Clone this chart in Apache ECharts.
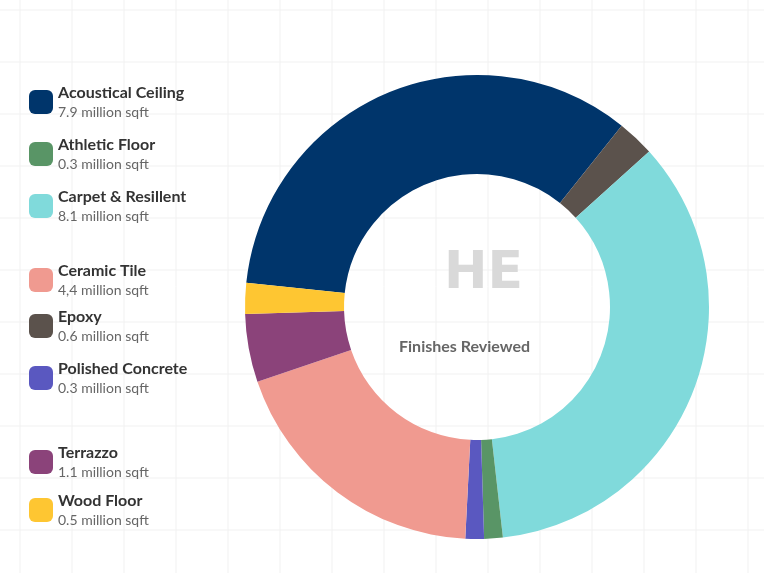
<!DOCTYPE html>
<html><head><meta charset="utf-8">
<script src="https://cdn.jsdelivr.net/npm/echarts@6/dist/echarts.min.js"></script>
<style>html,body{margin:0;background:#fff}#main{width:764px;height:573px}</style>
</head><body><div id="main"></div>
<script>
// data, clockwise order around the ring
const names = ["Acoustical Ceiling", "Epoxy", "Carpet & Resillent", "Athletic Floor", "Polished Concrete", "Ceramic Tile", "Terrazzo", "Wood Floor"];
const values = [7.9, 0.6, 8.1, 0.3, 0.3, 4.4, 1.1, 0.5];
const labels = ["7.9", "0.6", "8.1", "0.3", "0.3", "4,4", "1.1", "0.5"];
const colors = ["#00356b", "#5b524c", "#80dadb", "#599566", "#5a58c0", "#f09a90", "#8b437a", "#fec632"];
// legend order as shown on the left
const legendOrder = ["Acoustical Ceiling", "Athletic Floor", "Carpet & Resillent", "Ceramic Tile", "Epoxy", "Polished Concrete", "Terrazzo", "Wood Floor"];
const legendTops = [80, 132, 184, 258, 304, 356, 440, 488];

var myChart = echarts.init(document.getElementById("main"));

// faint background grid
let grid = [];
for (let x = 20; x < 764; x += 52) grid.push({ type: "line", shape: { x1: x, y1: 0, x2: x, y2: 573 }, style: { stroke: "#f1f1f1", lineWidth: 1 }, silent: true });
for (let y = 10; y < 573; y += 52) grid.push({ type: "line", shape: { x1: 0, y1: y, x2: 764, y2: y }, style: { stroke: "#f1f1f1", lineWidth: 1 }, silent: true });

let legends = legendOrder.map((n, i) => ({
  data: [n],
  left: 24,
  top: legendTops[i],
  orient: "vertical",
  icon: "roundRect",
  itemWidth: 24,
  itemHeight: 24,
  itemGap: 0,
  selectedMode: false,
  formatter: function (name) {
    return "{n|" + name + "}\n{v|" + labels[names.indexOf(name)] + " million sqft}";
  },
  textStyle: {
    rich: {
      n: { fontFamily: "Lato", fontWeight: "bold", fontSize: 16, color: "#333", lineHeight: 20 },
      v: { fontFamily: "Lato", fontSize: 14, color: "#666", lineHeight: 18 },
    },
  },
}));

option = {
  color: colors,
  legend: legends,
  graphic: grid.concat([
    { type: "text", left: 444, top: 248, style: { text: "HE", font: "bold 52px 'DejaVu Sans'", fill: "#d9d9d9" } },
    { type: "text", left: 399, top: 339, style: { text: "Finishes Reviewed", font: "bold 16px Lato", fill: "#666" } },
  ]),
  series: [
    {
      type: "pie",
      center: [477, 307],
      radius: [133, 232],
      startAngle: 174,
      clockwise: true,
      label: { show: false },
      labelLine: { show: false },
      silent: true,
      data: names.map((n, i) => ({ name: n, value: values[i] })),
    },
  ],
};
option && myChart.setOption(option);
</script></body></html>
